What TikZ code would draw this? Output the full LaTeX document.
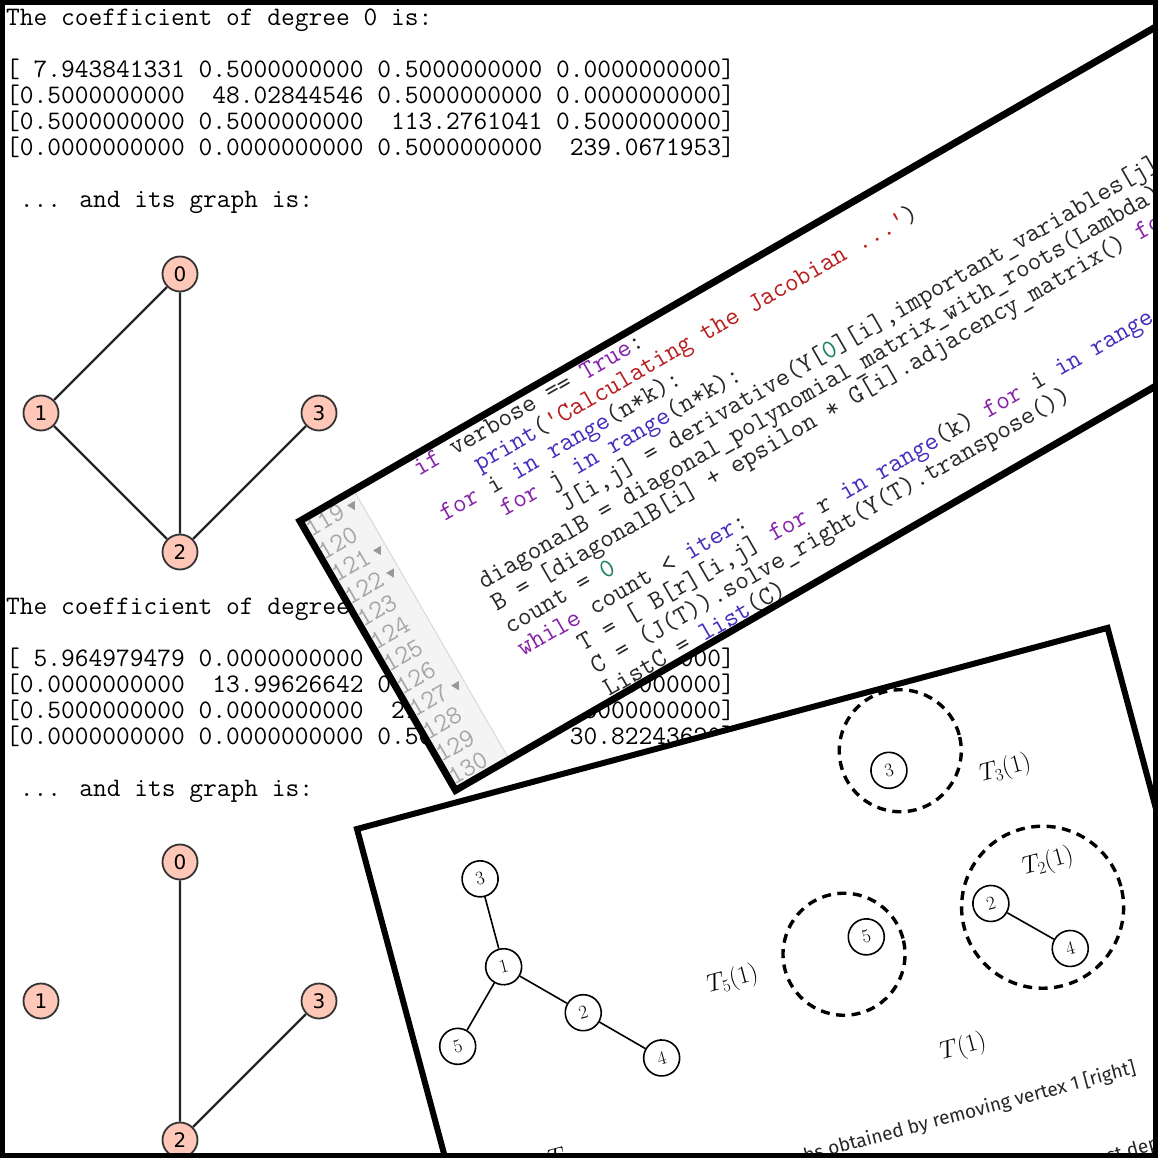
\documentclass[tikz,border=0pt]{standalone}
\usepackage{fontspec}
\newfontfamily\sagefont{DejaVu Sans}
\newfontfamily\capfont{Fira Sans}

\definecolor{sagefill}{HTML}{FEC7B8}
\definecolor{kwcol}{RGB}{135,35,170}
\definecolor{bicol}{RGB}{70,45,190}
\definecolor{strcol}{RGB}{185,30,30}
\definecolor{numcol}{RGB}{30,130,90}
\definecolor{codegray}{RGB}{40,40,40}
\definecolor{guttergray}{RGB}{244,244,244}

\newcommand{\pykw}[1]{\textcolor{kwcol}{#1}}
\newcommand{\pybi}[1]{\textcolor{bicol}{#1}}
\newcommand{\pystr}[1]{\textcolor{strcol}{#1}}
\newcommand{\pynum}[1]{\textcolor{numcol}{#1}}

\begin{document}
\begin{tikzpicture}[x=1pt, y=-1pt,
    txt/.style={anchor=base west, inner sep=0pt, font=\ttfamily\fontsize{26.7}{26}\selectfont},
    vertex/.style={circle, draw=black!80, line width=1.8pt, fill=sagefill, minimum size=35pt, inner sep=0pt, font=\sagefont\fontsize{20}{20}\selectfont},
    link/.style={line width=2.2pt, black!85},
    codeline/.style={txt, text=codegray},
    lineno/.style={txt, text=black!35},
    tnode/.style={circle, draw, line width=1.6pt, minimum size=36pt, inner sep=0pt, fill=white, font=\fontsize{19}{19}\selectfont},
    ring/.style={circle, draw, line width=3.4pt, dash pattern=on 9pt off 6.5pt, inner sep=0pt},
    mlabel/.style={inner sep=0pt, font=\fontsize{26}{30}\selectfont}]

    \useasboundingbox (0,0) rectangle (1158,1158);
    \fill[white] (0,0) rectangle (1158,1158);
    \clip (0,0) rectangle (1158,1158);

    % Sage output, degree 0
    \node[txt] (h0) at (6,26) {The coefficient of degree 0 is:};
    \node[txt] (r01) at (6,78) {[ 7.943841331 0.5000000000 0.5000000000 0.0000000000]};
    \node[txt] (r02) at (6,104) {[0.5000000000~ 48.02844546 0.5000000000 0.0000000000]};
    \node[txt] (r03) at (6,130) {[0.5000000000 0.5000000000~ 113.2761041 0.5000000000]};
    \node[txt] (r04) at (6,156) {[0.0000000000 0.0000000000 0.5000000000~ 239.0671953]};
    \node[txt] (g0) at (19.65,208) {... and its graph is:};

    % its graph
    \node[vertex] (a0) at (180,274) {0};
    \node[vertex] (a1) at (41,413) {1};
    \node[vertex] (a3) at (319,413) {3};
    \node[vertex] (a2) at (180,552) {2};
    \draw[link] (a0) -- (a1) (a0) -- (a2) (a1) -- (a2) (a2) -- (a3);

    % Sage output, degree 1
    \node[txt] (h1) at (6,614) {The coefficient of degree 1 is:};
    \node[txt] (r11) at (6,666) {[ 5.964979479 0.0000000000 0.5000000000 0.0000000000]};
    \node[txt] (r12) at (6,692) {[0.0000000000~ 13.99626642 0.0000000000 0.0000000000]};
    \node[txt] (r13) at (6,718) {[0.5000000000 0.0000000000~ 21.41952803 0.5000000000]};
    \node[txt] (r14) at (6,744) {[0.0000000000 0.0000000000 0.5000000000~ 30.82243620]};
    \node[txt] (g1) at (19.65,796) {... and its graph is:};

    % its graph
    \node[vertex] (b0) at (180,862) {0};
    \node[vertex] (b1) at (41,1001) {1};
    \node[vertex] (b3) at (319,1001) {3};
    \node[vertex] (b2) at (180,1140) {2};
    \draw[link] (b0) -- (b2) (b2) -- (b3);

    % Code snippet (rotated card)
    \begin{scope}[shift={(300,521)}, rotate=30, transform shape]
        \fill[white] (0,0) rectangle (1400,311);
        \begin{scope}
            \clip (0,0) rectangle (1400,311);
            % gutter with line numbers
            \fill[guttergray] (0,0) rectangle (62,311);
            \draw[black!15, line width=1pt] (62,0) -- (62,311);
            \foreach \n [count=\k from 0] in {119,...,130}
                \node[lineno] (ln\n) at (1,{20+26*\k}) {\n};
            \foreach \k in {0,2,3,8}
                \fill[black!40] (48.5,{10+26*\k}) -- (57.5,{10+26*\k}) -- (53,{18+26*\k}) -- cycle;
            % code
            \node[codeline] (cl1) at (125,21) {\pykw{if} verbose == \pykw{True}:};
            \node[codeline] (cl2) at (179.6,47) {\pybi{print}(\pystr{'Calculating the Jacobian ...'})};
            \node[codeline] (cl3) at (125,73) {\pykw{for} i \pybi{in} \pybi{range}(n*k):};
            \node[codeline] (cl4) at (179.6,99) {\pykw{for} j \pybi{in} \pybi{range}(n*k):};
            \node[codeline] (cl5) at (234.2,125) {J[i,j] = derivative(Y[\pynum{0}][i],important\_variables[j])};
            \node[codeline] (cl6) at (125,151) {diagonalB = diagonal\_polynomial\_matrix\_with\_roots(Lambda)};
            \node[codeline] (cl7) at (125,177) {B = [diagonalB[i] + epsilon * G[i].adjacency\_matrix() \pykw{for} i \pybi{in} \pybi{range}(k)]};
            \node[codeline] (cl8) at (125,203) {count = \pynum{0}};
            \node[codeline] (cl9) at (125,229) {\pykw{while} count < \pybi{iter}:};
            \node[codeline] (cl10) at (179.6,255) {T = [ B[r][i,j] \pykw{for} r \pybi{in} \pybi{range}(k) \pykw{for} i \pybi{in} \pybi{range}(n*k)]};
            \node[codeline] (cl11) at (179.6,281) {C = (J(T)).solve\_right(Y(T).transpose())};
            \node[codeline] (cl12) at (179.6,307) {ListC = \pybi{list}(C)};
        \end{scope}
        \draw[line width=7pt] (0,0) rectangle (1400,311);
    \end{scope}

    % Tree figure (rotated card)
    \begin{scope}[shift={(357,829)}, rotate=15, transform shape]
        \fill[white] (0,0) rectangle (777,600);
        \begin{scope}
            \clip (0,0) rectangle (777,600);
            % tree T
            \node[tnode] (t3) at (106,80) {3};
            \node[tnode] (t1) at (106,171) {1};
            \node[tnode] (t5) at (41,236) {5};
            \node[tnode] (t2) at (171,236) {2};
            \node[tnode] (t4) at (235,300) {4};
            \draw[line width=1.6pt] (t3) -- (t1) (t1) -- (t5) (t1) -- (t2) (t2) -- (t4);
            \node[mlabel] (lT) at (108,368) {$T$};

            % subtrees after removing vertex 1
            \node[ring, minimum size=122pt] (c3) at (545,65) {};
            \node[tnode] (u3) at (529,81) {3};
            \node[mlabel] (l3) at (642,110) {$T_3(1)$};

            \node[ring, minimum size=122pt] (c5) at (438,247) {};
            \node[tnode] (u5) at (464,236) {5};
            \node[mlabel] (l5) at (324,243) {$T_5(1)$};

            \node[ring, minimum size=162pt] (c2) at (642,253) {};
            \node[tnode] (u2) at (593,236) {2};
            \node[tnode] (u4) at (658,300) {4};
            \draw[line width=1.6pt] (u2) -- (u4);
            \node[mlabel] (l2) at (659,211) {$T_2(1)$};

            \node[mlabel] (lT1) at (529,368) {$T(1)$};

            % caption
            \node[anchor=base east, inner sep=0pt, font=\capfont\fontsize{19}{22}\selectfont, text=black!85] (cap1) at (690,438) {the subgraphs obtained by removing vertex 1 [right]};
            \node[anchor=base west, inner sep=0pt, font=\capfont\fontsize{19}{22}\selectfont, text=black!85] (cap2) at (612,517) {most dependent};
        \end{scope}
        \draw[line width=6pt] (0,0) rectangle (777,600);
    \end{scope}

    % outer frame
    \draw[line width=10pt] (0,0) rectangle (1158,1158);
\end{tikzpicture}
\end{document}
